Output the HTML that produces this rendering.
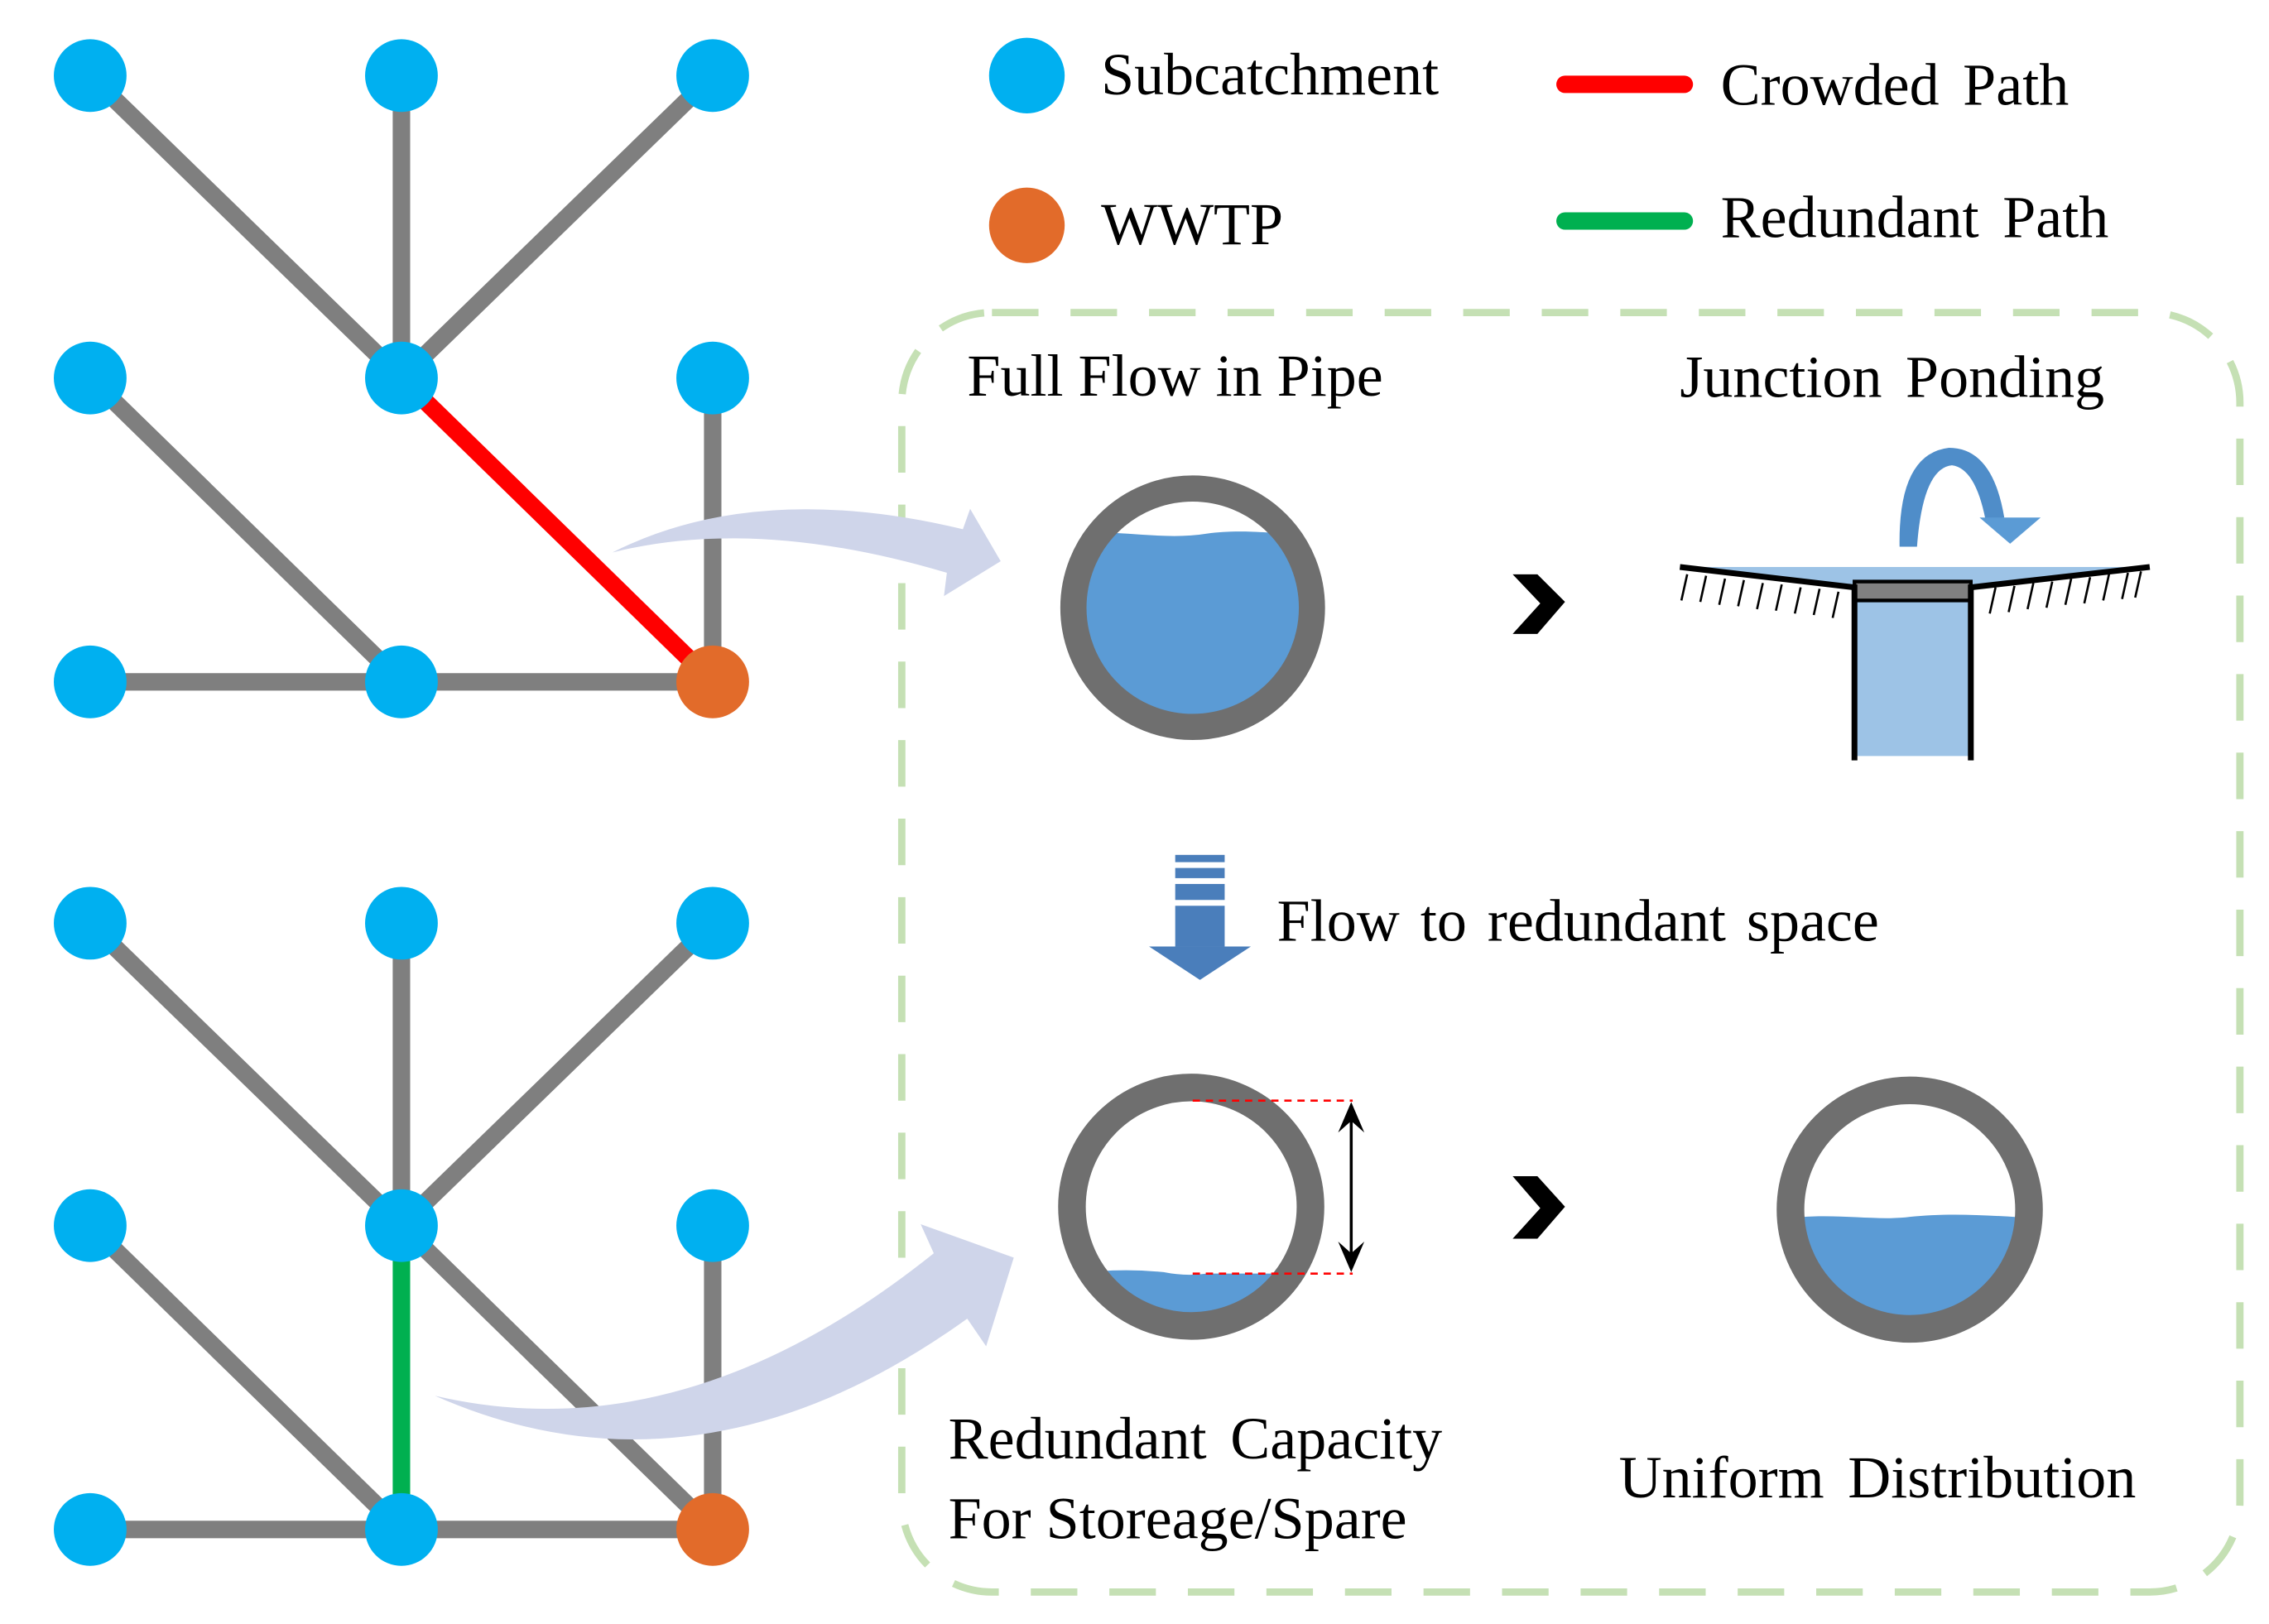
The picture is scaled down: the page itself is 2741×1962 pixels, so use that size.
<!DOCTYPE html>
<html><head><meta charset="utf-8"><style>
html,body{margin:0;padding:0;background:#fff}
svg{display:block}
text{font-family:"Liberation Serif",serif;font-size:41px;fill:#000}
</style></head><body>
<svg width="2741" height="1962" viewBox="0 0 1560 1117" preserveAspectRatio="none" xmlns="http://www.w3.org/2000/svg">
<rect x="620" y="215" width="920" height="880" rx="62" fill="none" stroke="#c5e0b4" stroke-width="5" stroke-dasharray="32 22"/>

<g stroke="#7f7f7f" stroke-width="12" stroke-linecap="butt">
<line x1="62" y1="52" x2="276" y2="260"/><line x1="276" y1="52" x2="276" y2="260"/><line x1="490" y1="52" x2="276" y2="260"/>
<line x1="62" y1="260" x2="276" y2="469"/><line x1="490" y1="260" x2="490" y2="469"/><line x1="62" y1="469" x2="490" y2="469"/>
</g>
<line x1="276" y1="260" x2="490" y2="469" stroke="#ff0000" stroke-width="12"/>
<g fill="#00b0f0">
<circle cx="62" cy="52" r="25"/><circle cx="276" cy="52" r="25"/><circle cx="490" cy="52" r="25"/>
<circle cx="62" cy="260" r="25"/><circle cx="276" cy="260" r="25"/><circle cx="490" cy="260" r="25"/>
<circle cx="62" cy="469" r="25"/><circle cx="276" cy="469" r="25"/>
</g>
<circle cx="490" cy="469" r="25" fill="#e26b2a"/>

<g stroke="#7f7f7f" stroke-width="12">
<line x1="62" y1="635" x2="276" y2="843"/><line x1="276" y1="635" x2="276" y2="843"/><line x1="490" y1="635" x2="276" y2="843"/>
<line x1="62" y1="843" x2="276" y2="1052"/><line x1="490" y1="843" x2="490" y2="1052"/><line x1="62" y1="1052" x2="490" y2="1052"/>
<line x1="276" y1="843" x2="490" y2="1052"/>
</g>
<line x1="276" y1="843" x2="276" y2="1052" stroke="#00b050" stroke-width="12"/>
<g fill="#00b0f0">
<circle cx="62" cy="635" r="25"/><circle cx="276" cy="635" r="25"/><circle cx="490" cy="635" r="25"/>
<circle cx="62" cy="843" r="25"/><circle cx="276" cy="843" r="25"/><circle cx="490" cy="843" r="25"/>
<circle cx="62" cy="1052" r="25"/><circle cx="276" cy="1052" r="25"/>
</g>
<circle cx="490" cy="1052" r="25" fill="#e26b2a"/>

<path d="M421,380 Q520,330 662,364 L667,350 L688,386 L649,410 L651,394 Q520,355 421,380 Z" fill="#cfd5ea"/>
<path d="M299,960 Q470,1000 642,862 L633,842 L697,865 L678,926 L665,907 Q480,1040 299,960 Z" fill="#cfd5ea"/>

<circle cx="706" cy="52" r="26" fill="#00b0f0"/>
<text x="757" y="65">Subcatchment</text>
<circle cx="706" cy="155" r="26" fill="#e26b2a"/>
<text x="757" y="168">WWTP</text>
<line x1="1076" y1="58" x2="1158" y2="58" stroke="#ff0000" stroke-width="12" stroke-linecap="round"/>
<text x="1183" y="72" style="word-spacing:6px">Crowded Path</text>
<line x1="1076" y1="152" x2="1158" y2="152" stroke="#00b050" stroke-width="12" stroke-linecap="round"/>
<text x="1183" y="163" style="word-spacing:6px">Redundant Path</text>

<text x="665" y="272">Full Flow in Pipe</text>
<text x="1155" y="273" style="word-spacing:6px">Junction Ponding</text>
<text x="878" y="647" style="word-spacing:4px">Flow to redundant space</text>
<text x="652" y="1003" style="word-spacing:6px">Redundant Capacity</text>
<text x="652" y="1058">For Storeage/Spare</text>
<text x="1113" y="1030" style="word-spacing:6px">Uniform Distribution</text>

<defs>
<clipPath id="c1"><circle cx="820" cy="418" r="74"/></clipPath>
<clipPath id="c2"><circle cx="819" cy="830" r="74"/></clipPath>
<clipPath id="c3"><circle cx="1313" cy="832" r="74"/></clipPath>
</defs>
<path clip-path="url(#c1)" d="M740,367 C770,364 800,372 830,367 C850,364 880,366 900,370 L900,500 L740,500 Z" fill="#5b9bd5"/>
<circle cx="820" cy="418" r="82" fill="none" stroke="#6f6f6f" stroke-width="18"/>
<path d="M1040,395 L1057,395 L1076,414 L1057,436 L1040,436 L1059,415 Z" fill="#000"/>
<path d="M1040,809 L1057,809 L1076,830 L1057,852 L1040,852 L1059,831 Z" fill="#000"/>

<path d="M1155,390 L1275,402 L1355,402 L1478,390 Z" fill="#9dc3e6"/>
<rect x="1275" y="412" width="80" height="108" fill="#9dc3e6"/>
<rect x="1275" y="400" width="80" height="13" fill="#808080" stroke="#000" stroke-width="2.5"/>
<path d="M1155,390 L1275,404 M1355,404 L1478,390" stroke="#000" stroke-width="4" fill="none"/>
<path d="M1275,402 L1275,523 M1355,402 L1355,523" stroke="#000" stroke-width="4" fill="none"/>
<g stroke="#000" stroke-width="1.5">
<line x1="1160" y1="395" x2="1156" y2="413"/><line x1="1173" y1="396" x2="1169" y2="414"/><line x1="1186" y1="398" x2="1182" y2="416"/><line x1="1199" y1="399" x2="1195" y2="417"/><line x1="1212" y1="401" x2="1208" y2="419"/><line x1="1225" y1="402" x2="1221" y2="420"/><line x1="1238" y1="404" x2="1234" y2="422"/><line x1="1251" y1="405" x2="1247" y2="423"/><line x1="1264" y1="407" x2="1260" y2="425"/>
<line x1="1372" y1="404" x2="1368" y2="422"/><line x1="1385" y1="403" x2="1381" y2="421"/><line x1="1398" y1="401" x2="1394" y2="419"/><line x1="1411" y1="400" x2="1407" y2="418"/><line x1="1424" y1="398" x2="1420" y2="416"/><line x1="1437" y1="397" x2="1433" y2="415"/><line x1="1450" y1="395" x2="1446" y2="413"/><line x1="1463" y1="394" x2="1459" y2="412"/><line x1="1472" y1="393" x2="1468" y2="411"/>
</g>
<path d="M1306,376 Q1305,312 1340,308 Q1370,308 1378,356 L1365,357 Q1358,322 1342,320 Q1322,322 1318,376 Z" fill="#4f8dc9"/>
<path d="M1361,356 L1403,356 L1382,374 Z" fill="#5b9bd5"/>

<g fill="#4a7ebb">
<rect x="808" y="588" width="34" height="5"/>
<rect x="808" y="597" width="34" height="7"/>
<rect x="808" y="608" width="34" height="11"/>
<rect x="808" y="623" width="34" height="28"/>
<path d="M790,651 L860,651 L825,674 Z"/>
</g>

<path clip-path="url(#c2)" d="M740,876 Q770,872 800,875 Q815,878 830,876 L900,876 L900,920 L740,920 Z" fill="#5b9bd5"/>
<circle cx="819" cy="830" r="82" fill="none" stroke="#6f6f6f" stroke-width="19"/>
<g stroke="#ff0000" stroke-width="1.5" stroke-dasharray="5 4">
<line x1="820" y1="757" x2="930" y2="757"/><line x1="820" y1="876" x2="930" y2="876"/>
</g>
<line x1="929" y1="765" x2="929" y2="868" stroke="#000" stroke-width="2"/>
<path d="M920,779 L929,758 L938,779 L929,771 Z M920,854 L929,875 L938,854 L929,862 Z" fill="#000"/>

<path clip-path="url(#c3)" d="M1230,838 C1260,834 1290,840 1313,837 C1340,834 1370,836 1400,838 L1400,920 L1230,920 Z" fill="#5b9bd5"/>
<circle cx="1313" cy="832" r="82" fill="none" stroke="#6f6f6f" stroke-width="19"/>
</svg>
</body></html>
